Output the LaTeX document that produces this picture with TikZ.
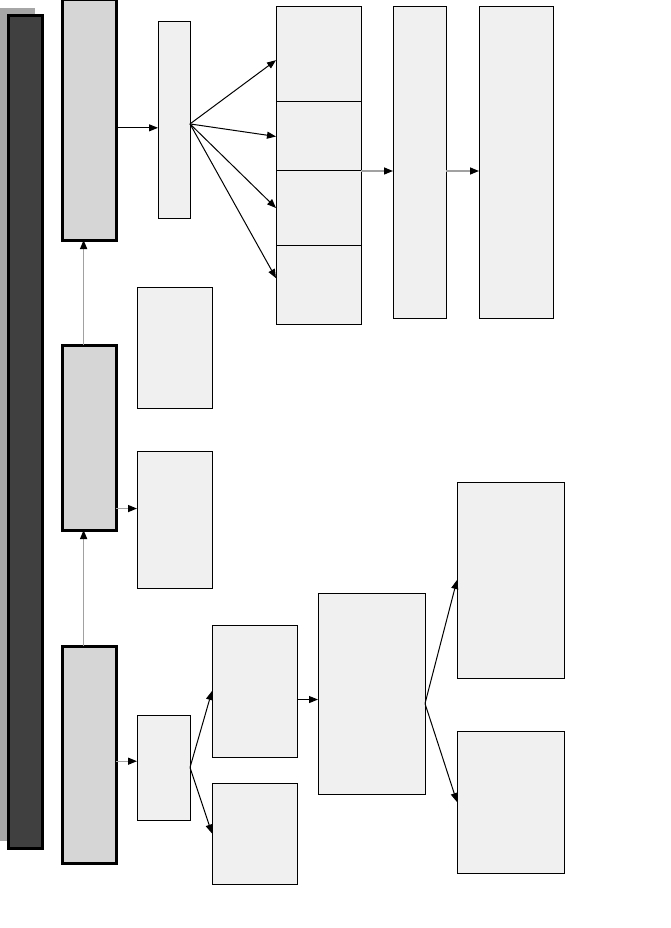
\documentclass[tikz,border=0pt]{standalone}
\usepackage{tikz}
\usetikzlibrary{arrows.meta, positioning, calc}
\tikzset{
    panel/.style={
        rectangle,
        draw=black,
        line width=1pt,
        fill=black!6,
        inner sep=0pt,
        outer sep=0pt,
        anchor=north west
    },
    stage/.style={
        panel,
        line width=3pt,
        fill=black!16
    },
    spine/.style={
        panel,
        line width=3pt,
        fill=black!75
    },
    sized/.style 2 args={
        minimum width=#1pt,
        minimum height=#2pt
    },
    link/.style={
        -{Triangle[length=9pt, width=7pt]},
        line width=1pt
    },
    greylink/.style={
        -{Triangle[length=9pt, width=7pt, color=black]},
        line width=1.4pt,
        draw=black!37
    }
}
\begin{document}
\begin{tikzpicture}[x=1pt, y=-1pt]
    \useasboundingbox (0,0) rectangle (670,928);

    \node[panel, draw=none, fill=black!35, sized={35}{833}] (shade) at (0,8) {};
    \node[spine, sized={34}{832}] (spinebar) at (8,16) {};

    \node[stage, sized={54}{240}] (top) at (62,0) {};
    \node[stage, sized={54}{185}] (middle) at (62,345) {};
    \node[stage, sized={54}{217}] (bottom) at (62,646) {};

    \node[panel, sized={32}{196}] (hub) at (158,22) {};
    \node[panel, sized={85}{95}] (opt1) at (276,7) {};
    \node[panel, sized={85}{69}] (opt2) at (276,102) {};
    \node[panel, sized={85}{74}] (opt3) at (276,171) {};
    \node[panel, sized={85}{79}] (opt4) at (276,245) {};
    \node[panel, sized={53}{311}] (gate) at (393,7) {};
    \node[panel, sized={74}{311}] (result) at (479,7) {};

    \node[panel, sized={75}{121}] (note) at (137,287) {};
    \node[panel, sized={75}{137}] (detail) at (137,451) {};

    \node[panel, sized={53}{105}] (split) at (137,715) {};
    \node[panel, sized={85}{132}] (upper) at (212,625) {};
    \node[panel, sized={85}{101}] (lower) at (212,783) {};
    \node[panel, sized={107}{201}] (merge) at (318,593) {};
    \node[panel, sized={107}{196}] (yes) at (457,482) {};
    \node[panel, sized={107}{142}] (no) at (457,731) {};

    \coordinate (upfoot) at ($(bottom.north west)!0.4!(bottom.north east)$);
    \coordinate (midfoot) at ($(middle.north west)!0.4!(middle.north east)$);
    \coordinate (hubin) at ($(hub.north west)!0.54!(hub.south west)$);
    \coordinate (hubout) at ($(hub.north east)!0.52!(hub.south east)$);
    \coordinate (opt1in) at ($(opt1.north west)!0.56!(opt1.south west)$);
    \coordinate (opt4in) at ($(opt4.north west)!0.42!(opt4.south west)$);
    \coordinate (detailin) at ($(detail.north west)!0.42!(detail.south west)$);
    \coordinate (splitin) at ($(split.north west)!0.44!(split.south west)$);
    \coordinate (mergein) at ($(merge.north west)!0.53!(merge.south west)$);
    \coordinate (mergeout) at ($(merge.north east)!0.55!(merge.south east)$);

    \draw[greylink] (upfoot) -- (upfoot |- middle.south);
    \draw[greylink] (midfoot) -- (midfoot |- top.south);

    \draw[link] (top.east |- hubin) -- (hubin);
    \draw[link] (hubout) -- (opt1in);
    \draw[link] (hubout) -- (opt2.west);
    \draw[link] (hubout) -- (opt3.west);
    \draw[link] (hubout) -- (opt4in);
    \draw[greylink] (opt2.south east) -- (opt2.south east -| gate.west);
    \draw[greylink] (gate.east |- opt2.south east) -- (opt2.south east -| result.west);

    \draw[greylink] (middle.east |- detailin) -- (detailin);
    \draw[greylink] (bottom.east |- splitin) -- (splitin);

    \draw[link] (split.east) -- (upper.west);
    \draw[link] (split.east) -- (lower.west);
    \draw[link] (upper.east |- mergein) -- (mergein);
    \draw[link] (mergeout) -- (yes.west);
    \draw[link] (mergeout) -- (no.west);
\end{tikzpicture}
\end{document}
